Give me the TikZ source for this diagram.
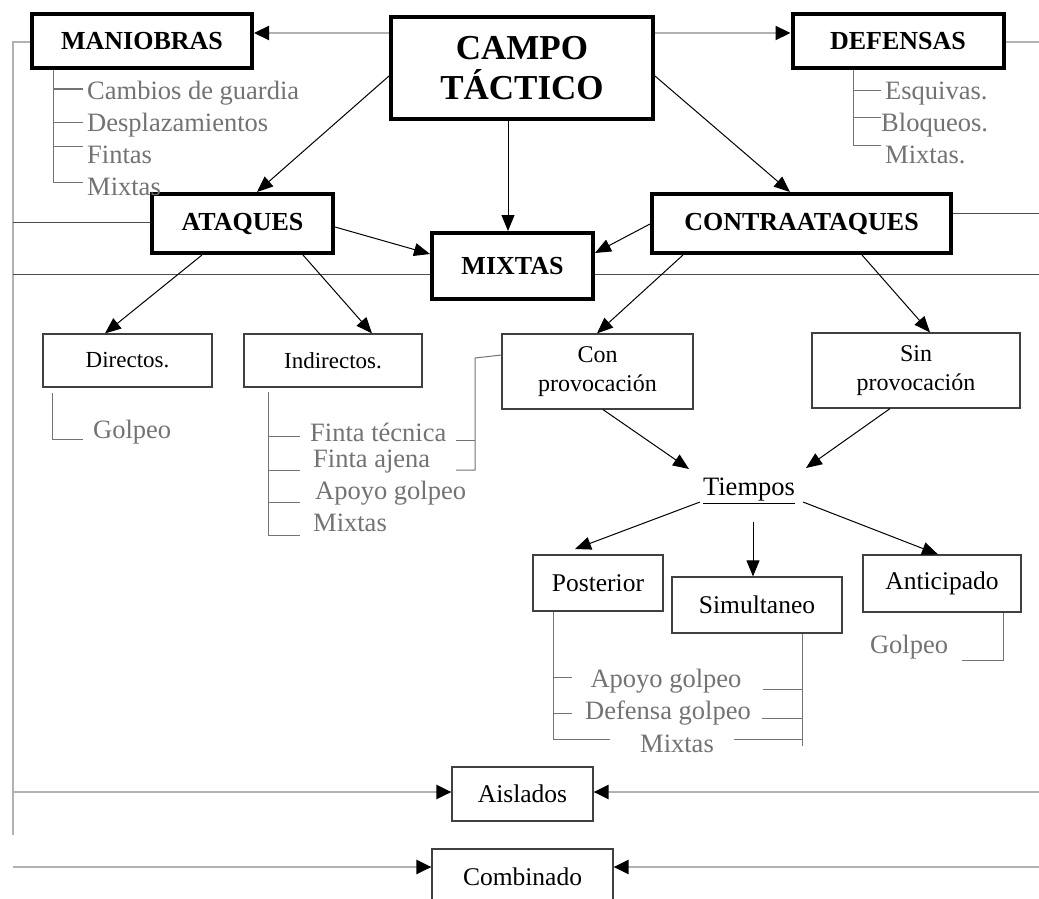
\documentclass[tikz,border=0pt]{standalone}
\usepackage{fontspec}
\setmainfont{Liberation Serif}
\usetikzlibrary{arrows.meta,calc}
\begin{document}
\begin{tikzpicture}[x=1pt,y=-1pt,
  mainbox/.style={draw=black, line width=4pt, inner sep=0pt, align=center, font=\fontsize{26}{30}\selectfont\bfseries},
  subbox/.style={draw=black!75, line width=1.2pt, inner sep=0pt, align=center, font=\fontsize{25.5}{29}\selectfont},
  graytxt/.style={text=black!55, inner sep=0pt, anchor=west, font=\fontsize{26.5}{30}\selectfont},
  gline/.style={draw=black!30, line width=2.2pt},
  garrow/.style={draw=black!30, line width=2.2pt, -{Triangle[length=15pt,width=14pt,color=black]}},
  dline/.style={draw=black!70, line width=1pt},
  brk/.style={draw=black!55, line width=1pt},
  arr/.style={draw=black, line width=1pt, -{Triangle[length=16pt,width=13pt]}}]
\clip (0,0) rectangle (1039,899);
\fill[white] (0,0) rectangle (1039,899);

% main boxes
\node[mainbox, minimum width=220, minimum height=54] (man) at (142,41) {MANIOBRAS};
\node[mainbox, minimum width=262, minimum height=102, font=\fontsize{35}{40}\selectfont\bfseries] (campo) at (522,68) {CAMPO\\TÁCTICO};
\node[mainbox, minimum width=211, minimum height=54] (def) at (898,41) {DEFENSAS};
\node[mainbox, minimum width=181, minimum height=59] (atq) at (242.5,223.5) {ATAQUES};
\node[mainbox, minimum width=161, minimum height=66] (mix) at (512.5,266) {MIXTAS};
\node[mainbox, minimum width=299, minimum height=59] (con) at (801.5,223.5) {CONTRAATAQUES};

% sub boxes
\node[subbox, minimum width=169, minimum height=53, font=\fontsize{23}{27}\selectfont] (dir) at (127.5,360.5) {Directos.};
\node[subbox, minimum width=178, minimum height=53, font=\fontsize{23}{27}\selectfont] (ind) at (333,360.5) {Indirectos.};
\node[subbox, minimum width=191, minimum height=75, font=\fontsize{24}{29}\selectfont] (conp) at (597.5,371.5) {Con\\provocación};
\node[subbox, minimum width=208, minimum height=75, font=\fontsize{24}{29}\selectfont] (sinp) at (916,370.5) {Sin\\provocación};
\node[inner sep=0pt, font=\fontsize{26.5}{30}\selectfont] (tiem) at (749,491) {\underline{Tiempos}};
\node[subbox, minimum width=130, minimum height=56] (post) at (598,583) {Posterior};
\node[subbox, minimum width=170, minimum height=56] (sim) at (757,605) {Simultaneo};
\node[subbox, minimum width=158, minimum height=57] (ant) at (942,583.5) {Anticipado};
\node[subbox, minimum width=141, minimum height=54] (ais) at (522.5,794) {Aislados};
\node[subbox, minimum width=181, minimum height=56] (comb) at (522.5,877) {Combinado};

% named free ends near Tiempos
\coordinate (tinL) at (689,469);
\coordinate (tinR) at (806,468);
\coordinate (toutL) at (700,502);
\coordinate (toutR) at (803,502);
\coordinate (toutD) at (753,522);
\coordinate (postin) at (575,549);

% gray outer connectors
\draw[garrow] (campo.west |- 0,33) -- (man.east |- 0,33);
\draw[garrow] (campo.east |- 0,33) -- (def.west |- 0,33);
\draw[gline] (def.east |- 0,42) -- (1039,42);
\draw[gline] (man.west |- 0,42) -- (13,42) -- (13,835);
\draw[garrow] (13,792) -- (ais.west |- 0,792);
\draw[garrow] (1039,792) -- (ais.east |- 0,792);
\draw[garrow] (13,867) -- (comb.west |- 0,867);
\draw[garrow] (1039,867) -- (comb.east |- 0,867);

% dark thin connectors
\draw[dline] (atq.west |- 0,222) -- (13,222);
\draw[dline] (13,274) -- (mix.west |- 0,274);
\draw[dline] (mix.east |- 0,274) -- (1039,274);
\draw[dline] (con.east |- 0,213) -- (1039,213);

% black arrows
\draw[arr] (campo.west |- 0,76) -- (257,0 |- atq.north);
\draw[arr] (508,0 |- campo.south) -- (508,0 |- mix.north);
\draw[arr] (campo.east |- 0,76) -- (790,0 |- con.north);
\draw[arr] (atq.east |- 0,227) -- (mix.west |- 0,254);
\draw[arr] (con.west |- 0,224) -- (mix.east |- 0,253);
\draw[arr] (202,0 |- atq.south) -- (105,0 |- dir.north);
\draw[arr] (303,0 |- atq.south) -- (372,0 |- ind.north);
\draw[arr] (683,0 |- con.south) -- (597,0 |- conp.north);
\draw[arr] (862,0 |- con.south) -- (930,0 |- sinp.north);
\draw[arr] (603,0 |- conp.south) -- (tinL);
\draw[arr] (890,0 |- sinp.south) -- (tinR);
\draw[arr] (toutL) -- (postin);
\draw[arr] (toutD) -- (753,0 |- sim.north);
\draw[arr] (toutR) -- (938,0 |- ant.north);

% MANIOBRAS list
\draw[brk] (53,0 |- man.south) -- (53,182) -- (83,182);
\foreach \y in {89,122,146} \draw[brk] (53,\y) -- (83,\y);
\node[graytxt] (m1) at (87,93) {Cambios de guardia};
\node[graytxt] (m2) at (87,125) {Desplazamientos};
\node[graytxt] (m3) at (87,155) {Fintas};
\node[graytxt] (m4) at (87,187) {Mixtas};

% DEFENSAS list
\draw[brk] (853,0 |- def.south) -- (853,145) -- (881,145);
\foreach \y in {90,117} \draw[brk] (853,\y) -- (881,\y);
\node[graytxt] (d1) at (885,94) {Esquivas.};
\node[graytxt] (d2) at (881,125) {Bloqueos.};
\node[graytxt] (d3) at (885,155) {Mixtas.};

% Directos list
\draw[brk] (52,393) -- (52,439) -- (83,439);
\node[graytxt] (g1) at (93,432) {Golpeo};

% Indirectos list
\draw[brk] (268,392) -- (268,535) -- (300,535);
\foreach \y in {436,470,502} \draw[brk] (268,\y) -- (300,\y);
\node[graytxt] (i1) at (310,432) {Finta técnica};
\node[graytxt] (i2) at (313,462) {Finta ajena};
\node[graytxt] (i3) at (315,493) {Apoyo golpeo};
\node[graytxt] (i4) at (313,523) {Mixtas};

% Con provocacion bracket
\draw[brk] (conp.west |- 0,355) -- (475,358) -- (475,470) -- (456,470);
\draw[brk] (475,440) -- (456,440);

% Posterior / Simultaneo list
\draw[brk] (553,0 |- post.south) -- (553,739) -- (610,739);
\draw[brk] (553,677) -- (572,677);
\draw[brk] (553,713) -- (572,713);
\draw[brk] (802,0 |- sim.south) -- (802,746);
\draw[brk] (763,689) -- (802,689);
\draw[brk] (762,718) -- (802,718);
\draw[brk] (734,739) -- (802,739);
\node[graytxt, anchor=center] (p1) at (666,681) {Apoyo golpeo};
\node[graytxt, anchor=center] (p2) at (668,713) {Defensa golpeo};
\node[graytxt, anchor=center] (p3) at (677,744) {Mixtas};

% Anticipado list
\draw[brk] (1003,0 |- ant.south) -- (1003,660) -- (962,660);
\node[graytxt, anchor=center] (a1) at (909,647) {Golpeo};
\end{tikzpicture}
\end{document}
